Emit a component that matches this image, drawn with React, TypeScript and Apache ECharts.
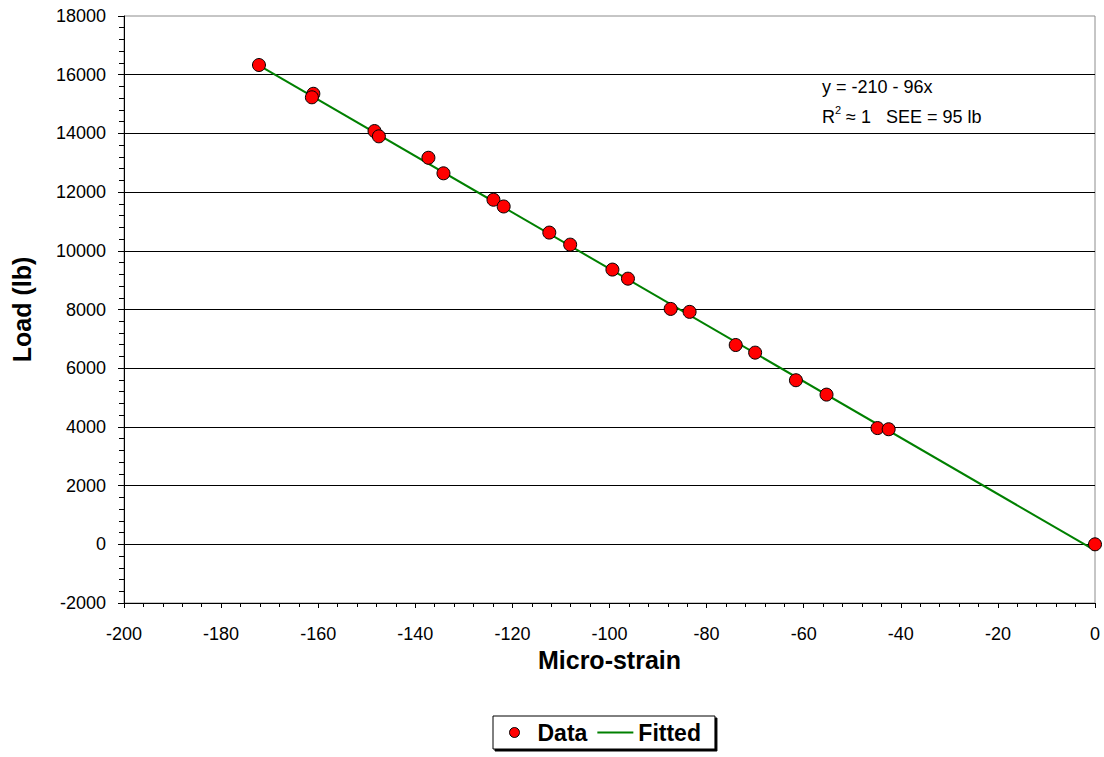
import React, { useEffect, useRef } from "react";
import * as echarts from "echarts";

const strain = [-172.2, -161.0, -161.3, -148.4, -147.5, -137.3, -134.2, -123.9, -121.8, -112.4, -108.1, -99.4, -96.2, -87.4, -83.5, -74.0, -70.0, -61.6, -55.3, -44.8, -42.5, 0];
const load = [16330, 15350, 15230, 14080, 13900, 13170, 12640, 11740, 11510, 10620, 10210, 9360, 9050, 8020, 7920, 6790, 6530, 5590, 5100, 3960, 3920, 0];
const fittedStrain = [-172.2, 0];
const fittedLoad = [16320, -210];
const equationText = "y = -210 - 96x";
const statsParts = ["R", "2", "≈ 1   SEE = 95 lb"];

const FONT = "'Liberation Sans', Arial, sans-serif";

export default function App() {
  const ref = useRef<HTMLDivElement>(null);
  useEffect(() => {
    if (!ref.current) return;
    const chart = echarts.init(ref.current, null, { renderer: "svg" });
    const scatterData = strain.map((s, i) => [s, load[i]]);
    const lineData = fittedStrain.map((s, i) => [s, fittedLoad[i]]);
    chart.setOption({
      animation: false,
      backgroundColor: "#ffffff",
      textStyle: { fontFamily: FONT },
      grid: {
        left: 124,
        right: 9,
        top: 16,
        bottom: 154,
        show: true,
        borderColor: "#8c8c8c",
        borderWidth: 1,
        backgroundColor: "transparent",
      },
      legend: {
        data: [
          { name: "Data", icon: "circle", itemStyle: { color: "#ff0000", borderColor: "#000", borderWidth: 1, opacity: 1 } },
          { name: "Fitted", icon: "path://M0,0 L36,0 L36,2 L0,2 Z", itemStyle: { color: "#008000", borderWidth: 0 } },
        ],
        left: 493,
        top: 716,
        orient: "horizontal",
        backgroundColor: "#ffffff",
        borderColor: "#000000",
        borderWidth: 1,
        shadowColor: "#000000",
        shadowOffsetX: 2,
        shadowOffsetY: 2,
        shadowBlur: 0,
        padding: [5, 14, 5, 16],
        itemGap: 10,
        itemWidth: 36,
        itemHeight: 10,
        textStyle: { fontFamily: FONT, fontSize: 23, fontWeight: "bold", color: "#000" },
      },
      xAxis: {
        type: "value",
        min: -200,
        max: 0,
        interval: 20,
        name: "Micro-strain",
        nameLocation: "middle",
        nameGap: 28,
        nameTextStyle: { fontFamily: FONT, fontSize: 25, fontWeight: "bold", color: "#000" },
        axisLine: { onZero: false, lineStyle: { color: "#000", width: 1 } },
        axisTick: { show: true, inside: false, length: 5, lineStyle: { color: "#000" } },
        minorTick: { show: true, splitNumber: 5, length: 4, lineStyle: { color: "#000" } },
        axisLabel: { fontFamily: FONT, fontSize: 18, color: "#000", margin: 22 },
        splitLine: { show: false },
      },
      yAxis: {
        type: "value",
        min: -2000,
        max: 18000,
        interval: 2000,
        name: "Load (lb)",
        nameLocation: "middle",
        nameGap: 90,
        nameTextStyle: { fontFamily: FONT, fontSize: 25, fontWeight: "bold", color: "#000" },
        axisLine: { show: true, onZero: false, lineStyle: { color: "#000", width: 1 } },
        axisTick: { show: true, inside: false, length: 6, lineStyle: { color: "#000" } },
        minorTick: { show: true, splitNumber: 5, length: 5, lineStyle: { color: "#000" } },
        axisLabel: { fontFamily: FONT, fontSize: 18, color: "#000", margin: 18, formatter: (v: number) => String(v) },
        splitLine: { show: true, showMinLine: false, showMaxLine: false, lineStyle: { color: "#000", width: 1 } },
      },
      graphic: [
        {
          type: "text",
          left: 822,
          top: 78,
          style: { text: equationText, fontFamily: FONT, fontSize: 18, fill: "#000" },
        },
        {
          type: "text",
          left: 822,
          top: 104,
          style: {
            text: `{b|${statsParts[0]}}{sup|${statsParts[1]}}{b| ${statsParts[2]}}`,
            rich: {
              b: { fontFamily: FONT, fontSize: 18, fill: "#000", color: "#000", verticalAlign: "bottom", lineHeight: 22 },
              sup: { fontFamily: FONT, fontSize: 11, fill: "#000", color: "#000", verticalAlign: "top", lineHeight: 22, padding: [0, 0, 10, 0] },
            },
          },
        },
      ],
      series: [
        {
          name: "Fitted",
          type: "line",
          data: lineData,
          showSymbol: false,
          symbol: "none",
          lineStyle: { color: "#008000", width: 2 },
          itemStyle: { color: "#008000" },
          z: 2,
        },
        {
          name: "Data",
          type: "scatter",
          data: scatterData,
          symbol: "circle",
          symbolSize: 13,
          itemStyle: { color: "#ff0000", borderColor: "#000", borderWidth: 1, opacity: 1 },
          z: 3,
        },
      ],
    });
    return () => chart.dispose();
  }, []);
  return (
    <div
      ref={ref}
      style={{ position: "fixed", left: 0, top: 0, width: 1104, height: 757, background: "#fff" }}
    />
  );
}
